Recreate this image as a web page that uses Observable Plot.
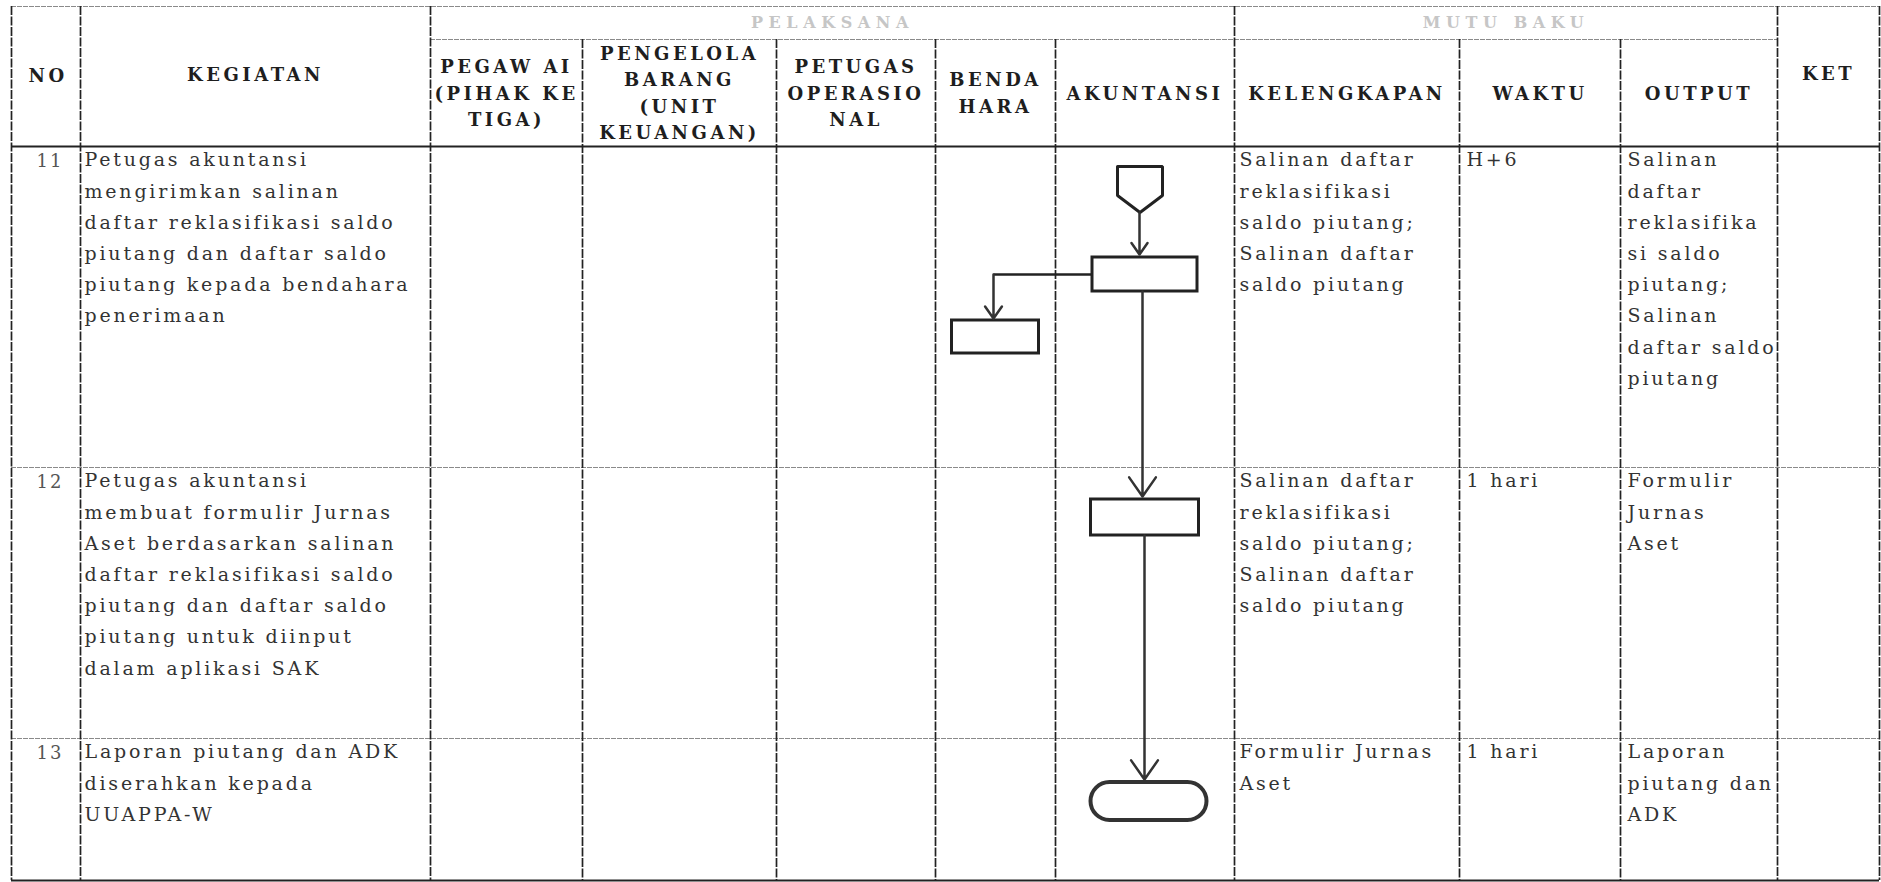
<!DOCTYPE html>
<html>
<head>
<meta charset="utf-8">
<script src="https://cdn.jsdelivr.net/npm/d3@7"></script>
<script src="https://cdn.jsdelivr.net/npm/@observablehq/plot@0.6"></script>
<style>
  html, body { margin: 0; padding: 0; background: #fff; }
  g[aria-description="body-text"] text { letter-spacing: 2.8px; }
  g[aria-description="num-text"] text { letter-spacing: 2px; }
  g[aria-description="head-text"] text { letter-spacing: 3.5px; }
  g[aria-description="group-text"] text { letter-spacing: 5.6px; }
</style>
</head>
<body>
<div id="chart"></div>
<script>
// ---------- DATA ----------
const groupHeaders = ["PELAKSANA", "MUTU BAKU"];
const fixedHeaders = ["NO", "KEGIATAN", "KET"];
const pelaksanaHeaders = [
  "PEGAW AI\n(PIHAK KE\nTIGA)",
  "PENGELOLA\nBARANG\n(UNIT\nKEUANGAN)",
  "PETUGAS\nOPERASIO\nNAL",
  "BENDA\nHARA",
  "AKUNTANSI"
];
const mutuBakuHeaders = ["KELENGKAPAN", "WAKTU", "OUTPUT"];

const rowNumbers = ["11", "12", "13"];
const kegiatan = [
  "Petugas akuntansi\nmengirimkan salinan\ndaftar reklasifikasi saldo\npiutang dan daftar saldo\npiutang kepada bendahara\npenerimaan",
  "Petugas akuntansi\nmembuat formulir Jurnas\nAset berdasarkan salinan\ndaftar reklasifikasi saldo\npiutang dan daftar saldo\npiutang untuk diinput\ndalam aplikasi SAK",
  "Laporan piutang dan ADK\ndiserahkan kepada\nUUAPPA-W"
];
const kelengkapan = [
  "Salinan daftar\nreklasifikasi\nsaldo piutang;\nSalinan daftar\nsaldo piutang",
  "Salinan daftar\nreklasifikasi\nsaldo piutang;\nSalinan daftar\nsaldo piutang",
  "Formulir Jurnas\nAset"
];
const waktu = ["H+6", "1 hari", "1 hari"];
const output = [
  "Salinan\ndaftar\nreklasifika\nsi saldo\npiutang;\nSalinan\ndaftar saldo\npiutang",
  "Formulir\nJurnas\nAset",
  "Laporan\npiutang dan\nADK"
];

// flow steps: which row, which lane, which symbol
const flowSteps = [
  {step: "a", row: "11", lane: "AKUNTANSI", shape: "connector"},
  {step: "b", row: "11", lane: "AKUNTANSI", shape: "process"},
  {step: "c", row: "11", lane: "BENDA\nHARA", shape: "process"},
  {step: "d", row: "12", lane: "AKUNTANSI", shape: "process"},
  {step: "e", row: "13", lane: "AKUNTANSI", shape: "terminator"}
];
const flowLinks = [
  {from: "a", to: "b"},
  {from: "b", to: "c"},
  {from: "b", to: "d"},
  {from: "d", to: "e"}
];

// ---------- LAYOUT ----------
const W = 1881, H = 882;
const L = {
  colEdges: [11, 80, 430, 582, 776, 935, 1055, 1234, 1459, 1620, 1777, 1879],
  top: 6, groupLine: 39, headBottom: 146,
  rowEdges: [146, 467, 738, 880],
  // symbol boxes relative to row top: [top, bottom, width, x-shift]
  symbol: {
    a: [20, 66, 45, -5],
    b: [111, 145, 105, 0],
    c: [174, 207, 87, 0],
    d: [32, 68, 108, 0],
    e: [44, 82, 116, 4]
  },
  textPadX: [4, 5, 7, 7], baseline: 20, lineH: 31.2, bodySize: 19, numSize: 18
};
const laneNames = [...pelaksanaHeaders, ...mutuBakuHeaders];
const colIndex = name => laneNames.indexOf(name) + 2;
const colCenter = i => (L.colEdges[i] + L.colEdges[i + 1]) / 2;
const rowTop = r => L.rowEdges[rowNumbers.indexOf(r)];

// grid lines
const fullCols = new Set([0, 1, 2, 7, 10, 11]);
const vLines = L.colEdges.map((x, i) => ({x, y1: fullCols.has(i) ? L.top : L.groupLine, y2: L.rowEdges[3]}));
const hDark = [
  {y: L.headBottom, x1: L.colEdges[0], x2: L.colEdges[11]},
  {y: L.rowEdges[3], x1: L.colEdges[0], x2: L.colEdges[11]}
];
const hLight = [
  {y: L.top, x1: L.colEdges[0], x2: L.colEdges[11]},
  {y: L.groupLine, x1: L.colEdges[2], x2: L.colEdges[10]},
  {y: L.rowEdges[1], x1: L.colEdges[0], x2: L.colEdges[11]},
  {y: L.rowEdges[2], x1: L.colEdges[0], x2: L.colEdges[11]}
];

// header text
const groupText = [
  {t: groupHeaders[0], x: (L.colEdges[2] + L.colEdges[7]) / 2},
  {t: groupHeaders[1], x: (L.colEdges[7] + L.colEdges[10]) / 2}
];
const fixedText = [
  {t: fixedHeaders[0], x: colCenter(0) + 2, y: 76},
  {t: fixedHeaders[1], x: colCenter(1), y: 75},
  {t: fixedHeaders[2], x: colCenter(10), y: 74}
];
const subText = laneNames.map((t, i) => ({t, x: colCenter(i + 2), y: (L.groupLine + L.headBottom) / 2 - 2}));

// body text (first baseline at row top + L.baseline)
const bodyTop = L.baseline - 0.71 * L.lineH;
const bodyCells = [];
rowNumbers.forEach((r, i) => {
  const y = L.rowEdges[i] + bodyTop;
  bodyCells.push({t: kegiatan[i], x: L.colEdges[1] + L.textPadX[0], y});
  bodyCells.push({t: kelengkapan[i], x: L.colEdges[7] + L.textPadX[1], y});
  bodyCells.push({t: waktu[i], x: L.colEdges[8] + L.textPadX[2], y});
  bodyCells.push({t: output[i], x: L.colEdges[9] + L.textPadX[3], y});
});
const numCells = rowNumbers.map((t, i) => ({t, x: colCenter(0) + 4, y: L.rowEdges[i] + L.baseline - 0.71 * L.numSize}));

// flow symbols
const sym = {};
flowSteps.forEach(s => {
  const [t, b, w, dx] = L.symbol[s.step];
  const cx = colCenter(colIndex(s.lane)) + dx;
  sym[s.step] = {...s, cx, x1: cx - w / 2, x2: cx + w / 2, y1: rowTop(s.row) + t, y2: rowTop(s.row) + b};
});
const processes = flowSteps.filter(s => s.shape === "process").map(s => sym[s.step]);
const terminators = flowSteps.filter(s => s.shape === "terminator").map(s => sym[s.step]);
const connectorPts = [];
flowSteps.filter(s => s.shape === "connector").forEach(s => {
  const c = sym[s.step];
  const mid = c.y1 + (c.y2 - c.y1) * 0.63;
  connectorPts.push(
    {x: c.x1, y: c.y1}, {x: c.x2, y: c.y1}, {x: c.x2, y: mid},
    {x: c.cx, y: c.y2}, {x: c.x1, y: mid}, {x: c.x1, y: c.y1}
  );
});
const arrows = [];
const elbows = [];
flowLinks.forEach(({from, to}) => {
  const a = sym[from], b = sym[to];
  if (Math.abs(a.cx - b.cx) < 10) {
    const x = Math.round((a.cx + b.cx) / 2) - 3;
    arrows.push({x1: x, y1: a.y2, x2: x, y2: b.y1 - 3});
  } else {
    const yMid = (a.y1 + a.y2) / 2;
    elbows.push({x1: a.x1, y1: yMid, x2: b.cx - 2, y2: yMid});
    arrows.push({x1: b.cx - 2, y1: yMid, x2: b.cx - 2, y2: b.y1 - 2});
  }
});

const serif = "'DejaVu Serif', 'Liberation Serif', serif";
const chart = Plot.plot({
  width: W, height: H, margin: 0,
  x: {domain: [0, W], range: [0, W], axis: null},
  y: {domain: [0, H], range: [0, H], axis: null},
  style: {background: "#fff"},
  marks: [
    Plot.ruleY(hLight, {y: "y", x1: "x1", x2: "x2", stroke: "#8a8a8a", strokeWidth: 1.2, strokeDasharray: "5,1"}),
    Plot.ruleY(hDark, {y: "y", x1: "x1", x2: "x2", stroke: "#222", strokeWidth: 1.8}),
    Plot.ruleX(vLines, {x: "x", y1: "y1", y2: "y2", stroke: "#222", strokeWidth: 1.7, strokeDasharray: "9,1.5"}),
    Plot.text(groupText, {x: "x", y: (L.top + L.groupLine) / 2, text: "t", fontFamily: serif, fontSize: 16, fontWeight: "bold", fill: "#c6c6c6", ariaDescription: "group-text"}),
    Plot.text(fixedText, {x: "x", y: "y", text: "t", fontFamily: serif, fontSize: 18, fontWeight: "bold", fill: "#1e1e1e", ariaDescription: "head-text"}),
    Plot.text(subText, {x: "x", y: "y", text: "t", fontFamily: serif, fontSize: 18, fontWeight: "bold", fill: "#1e1e1e", lineHeight: 1.48, ariaDescription: "head-text"}),
    Plot.text(bodyCells, {x: "x", y: "y", text: "t", textAnchor: "start", lineAnchor: "top", fontFamily: serif, fontSize: L.bodySize, lineHeight: L.lineH / L.bodySize, fill: "#333", ariaDescription: "body-text"}),
    Plot.text(numCells, {x: "x", y: "y", text: "t", lineAnchor: "top", fontFamily: serif, fontSize: L.numSize, fill: "#555", ariaDescription: "num-text"}),
    Plot.line(connectorPts, {x: "x", y: "y", stroke: "#222", strokeWidth: 3, strokeLinejoin: "miter"}),
    Plot.rect(processes, {x1: "x1", x2: "x2", y1: "y1", y2: "y2", fill: "#fff", stroke: "#222", strokeWidth: 3}),
    Plot.rect(terminators, {x1: "x1", x2: "x2", y1: "y1", y2: "y2", rx: 19, fill: "#fff", stroke: "#333", strokeWidth: 4}),
    Plot.link(elbows, {x1: "x1", y1: "y1", x2: "x2", y2: "y2", stroke: "#222", strokeWidth: 2.5}),
    Plot.arrow(arrows, {x1: "x1", y1: "y1", x2: "x2", y2: "y2", stroke: "#333", strokeWidth: 2.5, headLength: 14, headAngle: 70})
  ]
});
document.getElementById("chart").appendChild(chart);
</script>
</body>
</html>
